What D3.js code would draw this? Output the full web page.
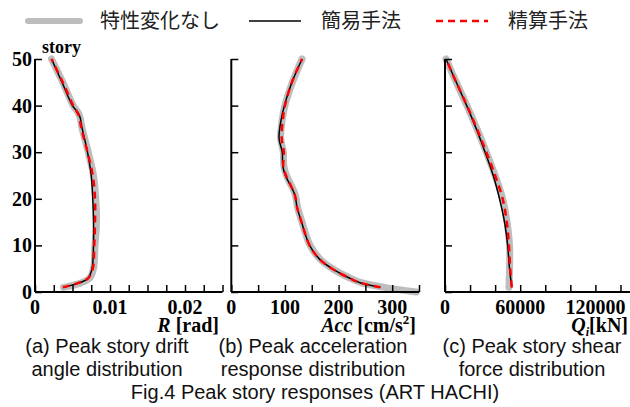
<!DOCTYPE html>
<html><head><meta charset="utf-8">
<script src="https://cdn.jsdelivr.net/npm/d3@7"></script>
<style>body{margin:0;background:#fff}svg{display:block}</style>
</head><body>
<svg id="c" width="630" height="407"></svg>
<script>
// ---- data ----
const storiesA = [1, 2, 3, 5, 10, 15, 20, 25, 30, 35, 38, 40, 45, 50];
const driftGray  = [0.0038,0.0062,0.0073,0.0078,0.0080,0.0082,0.0081,0.0078,0.0071,0.0063,0.0059,0.0051,0.0037,0.0022];
const driftBlack = [0.0038,0.0060,0.0071,0.0076,0.0078,0.0078,0.0077,0.0075,0.0070,0.0063,0.0059,0.0050,0.0036,0.0022];
const driftRed   = [0.0037,0.0059,0.0071,0.0077,0.0079,0.0080,0.0080,0.0077,0.0070,0.0062,0.0058,0.0051,0.0037,0.0022];

const storiesB = [1, 2, 3, 5, 7, 10, 15, 18, 21, 25, 27, 30, 33, 37, 40, 45, 50];
const accBlack = [278,240,220,188,165,146,131,123,118,101,96,95,89,93,99,113,132];
const accRed   = [278,240,220,188,165,146,131,123,118,102,97,98,94,96,100,113,132];
const storiesBGray = [0, 1, 2, 3, 5, 7, 10, 15, 18, 21, 25, 27, 30, 33, 37, 40, 45, 50];
const accGray  = [345,285,242,221,189,166,147,132,124,119,103,98,97,92,95,100,114,132];

const storiesC = [1, 5, 10, 15, 20, 25, 30, 35, 40, 45, 50];
const shearBlack = [53300,51500,50000,47500,43500,38500,32000,25000,17300,9000,800];
const shearRed   = [53300,52000,51000,49300,46000,40000,33000,25500,17500,9000,800];
const shearGray  = [51000,51500,51500,49500,46000,40000,33000,25500,17500,9000,800];

const yTicks = [0,10,20,30,40,50];
const xTicksA = [0,0.01,0.02];
const xTicksB = [0,100,200,300];
const xTicksC = [0,60000,120000];

const legendLabels = ["特性変化なし","簡易手法","精算手法"];
const captions = [["(a) Peak story drift","angle distribution"],["(b) Peak acceleration","response distribution"],["(c) Peak story shear","force distribution"]];
const figTitle = "Fig.4 Peak story responses (ART HACHI)";

// ---- drawing ----
const svg = d3.select("#c");
const y = d3.scaleLinear().domain([0,50]).range([292,59]);
const serif = "'Liberation Serif','Times New Roman',serif";
const sans = "'Liberation Sans',Arial,sans-serif";
const cjk = "'Noto Sans CJK JP','Noto Sans CJK SC',sans-serif";

const panels = [
  {x: d3.scaleLinear().domain([0,0.025]).range([35,222.5]), step:0.0025, labels:xTicksA, fmt:d=>d===0?"0":d3.format(".2f")(d),
   series:[[storiesA,driftGray],[storiesA,driftBlack],[storiesA,driftRed]], ylabels:true},
  {x: d3.scaleLinear().domain([0,350]).range([231.3,419]), step:50, labels:xTicksB, fmt:d=>String(d),
   series:[[storiesBGray,accGray],[storiesB,accBlack],[storiesB,accRed]], ylabels:false},
  {x: d3.scaleLinear().domain([0,150000]).range([445,633]), step:20000, labels:xTicksC, fmt:d=>String(d),
   series:[[storiesC,shearGray],[storiesC,shearBlack],[storiesC,shearRed]], ylabels:false}
];
const styles = [
  {stroke:"#bdbdbd", w:7, dash:null},
  {stroke:"#000", w:1.5, dash:null},
  {stroke:"#ff0000", w:2.5, dash:"7,5"}
];

panels.forEach((p,i)=>{
  const g = svg.append("g");
  const x = p.x;
  const line = d3.line().x(d=>x(d[1])).y(d=>y(d[0])).curve(d3.curveCatmullRom.alpha(0.5));
  p.series.forEach((s,k)=>{
    const pts = s[0].map((st,j)=>[st,s[1][j]]);
    g.append("path").attr("d",line(pts)).attr("fill","none")
      .attr("stroke",styles[k].stroke).attr("stroke-width",styles[k].w)
      .attr("stroke-linecap", k===0?"round":"butt").attr("stroke-linejoin","round")
      .attr("stroke-dasharray",styles[k].dash);
  });
  // x axis
  const d0 = x.domain();
  const minor = d3.range(0, d0[1]+p.step/2, p.step);
  const xa = g.append("g").attr("transform","translate(0,"+y(0)+")")
    .call(d3.axisBottom(x).tickValues(minor).tickSize(-7).tickFormat(""));
  xa.select(".domain").attr("stroke-width",2).attr("d","M"+x(0)+",0H"+x.range()[1]);
  xa.selectAll(".tick line").attr("stroke-width",1.5);
  p.labels.forEach(v=>{
    g.append("text").attr("x",x(v)).attr("y",314).attr("text-anchor","middle")
      .attr("font-family",serif).attr("font-weight","bold").attr("font-size",20).text(p.fmt(v));
  });
  // y axis
  const ya = g.append("g").attr("transform","translate("+x(0)+",0)")
    .call(d3.axisLeft(y).tickValues(yTicks).tickSize(-7).tickFormat(""));
  ya.select(".domain").attr("stroke-width",2).attr("d","M0,"+y(0)+"V"+y(50));
  ya.selectAll(".tick line").attr("stroke-width",1.5);
  if(p.ylabels){
    yTicks.forEach(v=>{
      g.append("text").attr("x",x(0)-3).attr("y",y(v)+7).attr("text-anchor","end")
        .attr("font-family",serif).attr("font-weight","bold").attr("font-size",20).text(v);
    });
    g.append("text").attr("x",42).attr("y",53).attr("font-family",serif).attr("font-weight","bold")
      .attr("font-size",18).text("story");
  }
  // captions
  const cx = [107,313,532][i];
  captions[i].forEach((t,j)=>{
    g.append("text").attr("x",cx).attr("y",353+j*23).attr("text-anchor","middle")
      .attr("font-family",sans).attr("font-size",20).attr("fill","#111").text(t);
  });
});

// axis titles
const t1 = svg.append("text").attr("x",219).attr("y",332).attr("text-anchor","end")
  .attr("font-family",serif).attr("font-weight","bold").attr("font-size",20);
t1.append("tspan").attr("font-style","italic").text("R");
t1.append("tspan").text(" [rad]");
const t2 = svg.append("text").attr("x",416).attr("y",332).attr("text-anchor","end")
  .attr("font-family",serif).attr("font-weight","bold").attr("font-size",20);
t2.append("tspan").attr("font-style","italic").text("Acc");
t2.append("tspan").text(" [cm/s");
t2.append("tspan").attr("font-size",13).attr("dy",-8).text("2");
t2.append("tspan").attr("dy",8).text("]");
const t3 = svg.append("text").attr("x",628).attr("y",332).attr("text-anchor","end")
  .attr("font-family",serif).attr("font-weight","bold").attr("font-size",20);
t3.append("tspan").attr("font-style","italic").text("Q");
t3.append("tspan").attr("font-style","italic").attr("font-size",12).attr("dy",4).text("i");
t3.append("tspan").attr("dy",-4).text("[kN]");

svg.append("text").attr("x",315).attr("y",399).attr("text-anchor","middle")
  .attr("font-family",sans).attr("font-size",20).attr("fill","#111").text(figTitle);

// legend
const lg = svg.append("g");
const lx = [[28,80,100],[249,301,321],[436,488,508]];
lx.forEach((l,k)=>{
  lg.append("line").attr("x1",l[0]).attr("x2",l[1]).attr("y1",21).attr("y2",21)
    .attr("stroke",styles[k].stroke).attr("stroke-width",k===0?6:styles[k].w)
    .attr("stroke-linecap",k===0?"round":"butt").attr("stroke-dasharray",styles[k].dash);
  lg.append("text").attr("x",l[2]).attr("y",28).attr("font-family",cjk).attr("font-size",20)
    .attr("fill","#222").text(legendLabels[k]);
});
</script>
</body></html>
